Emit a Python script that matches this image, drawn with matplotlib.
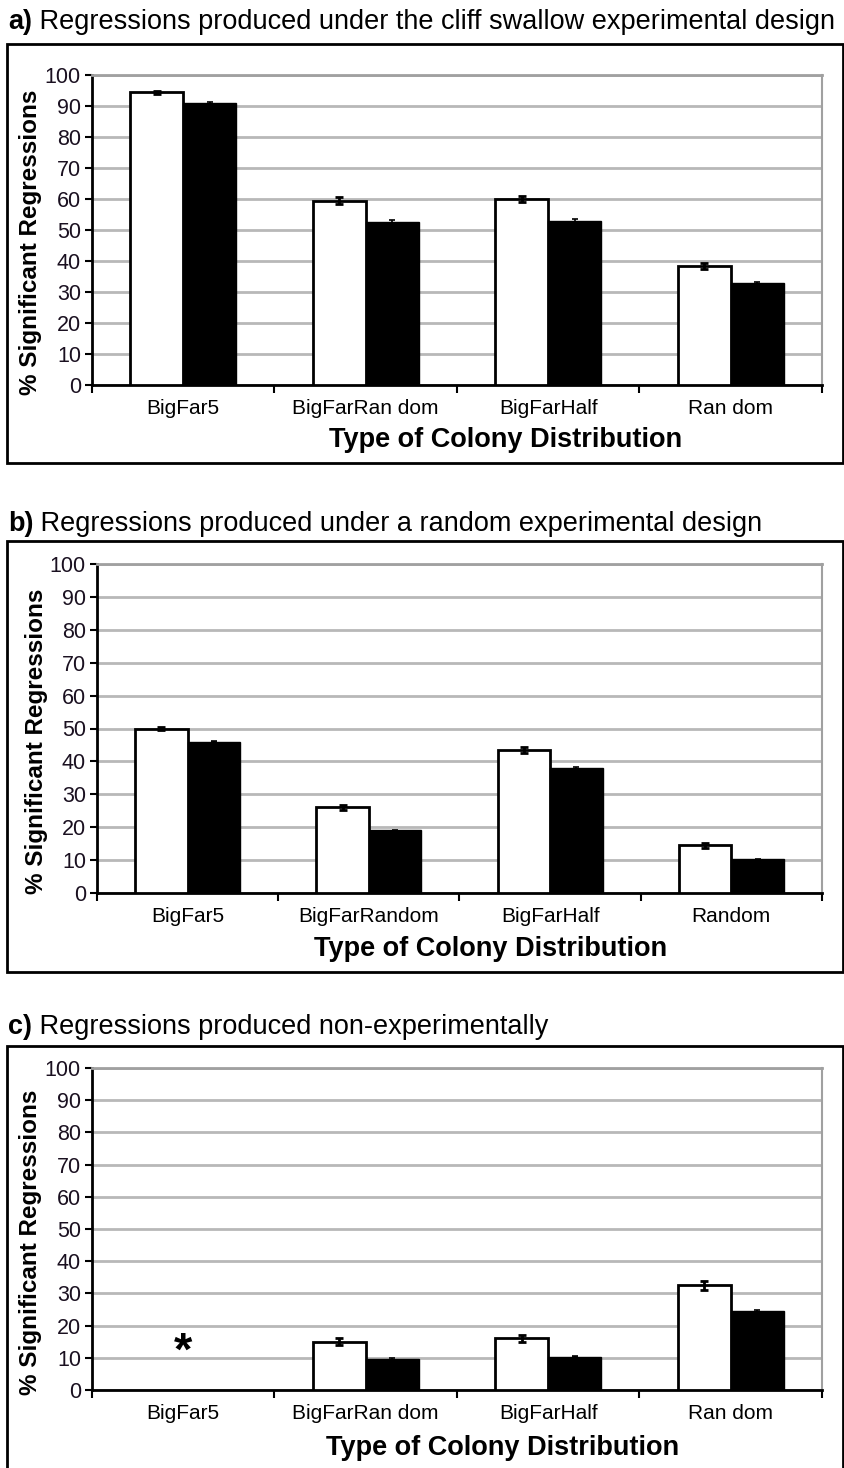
import matplotlib.pyplot as plt
import matplotlib.patches as mpatches
import numpy as np

# data
categories_a = ['BigFar5', 'BigFarRan dom', 'BigFarHalf', 'Ran dom']
categories_b = ['BigFar5', 'BigFarRandom', 'BigFarHalf', 'Random']
categories_c = ['BigFar5', 'BigFarRan dom', 'BigFarHalf', 'Ran dom']

white_a = [94.5, 59.5, 60.0, 38.5]
black_a = [91.0, 52.7, 53.0, 33.0]
white_err_a = [0.5, 1.0, 1.0, 1.0]
black_err_a = [0.2, 0.5, 0.4, 0.3]

white_b = [50.0, 26.0, 43.5, 14.5]
black_b = [46.0, 19.0, 38.0, 10.2]
white_err_b = [0.5, 0.8, 0.8, 0.8]
black_err_b = [0.2, 0.3, 0.2, 0.2]

white_c = [0.0, 15.0, 16.0, 32.5]
black_c = [0.0, 9.5, 10.3, 24.5]
white_err_c = [0.0, 1.0, 1.0, 1.5]
black_err_c = [0.0, 0.3, 0.2, 0.3]
missing_c = [True, False, False, False]
star_y = 11.5

titles = [('a)', ' Regressions produced under the cliff swallow experimental design'),
          ('b)', ' Regressions produced under a random experimental design'),
          ('c)', ' Regressions produced non-experimentally')]

NARROW = ['Liberation Sans Narrow', 'Liberation Sans', 'DejaVu Sans']
ARIAL = ['Liberation Sans', 'DejaVu Sans']

W, H = 845, 1468
fig = plt.figure(figsize=(W / 100, H / 100), dpi=100)


def px_axes(left, right, top, bottom):
    return fig.add_axes([left / W, 1 - bottom / H, (right - left) / W, (bottom - top) / H])


def draw_panel(ax, cats, white, black, werr, berr, skip=None):
    x = np.arange(len(cats)) + 0.5
    bw = 0.29
    keep = [i for i in range(len(cats)) if not (skip and skip[i])]
    xk = x[keep]
    ax.bar(xk - bw / 2, [white[i] for i in keep], bw, color='white', edgecolor='black',
           linewidth=2, zorder=3)
    ax.bar(xk + bw / 2, [black[i] for i in keep], bw, color='black', edgecolor='black',
           linewidth=1, zorder=3)
    ax.errorbar(xk - bw / 2, [white[i] for i in keep], yerr=[werr[i] for i in keep],
                fmt='none', ecolor='black', elinewidth=2, capsize=3, capthick=2, zorder=4)
    ax.errorbar(xk + bw / 2, [black[i] for i in keep], yerr=[berr[i] for i in keep],
                fmt='none', ecolor='black', elinewidth=1.2, capsize=2, capthick=1.2, zorder=4)

    ax.set_xlim(0, len(cats))
    ax.set_ylim(0, 100)
    ax.set_yticks(range(0, 101, 10))
    ax.set_xticks(range(0, len(cats) + 1))
    ax.set_xticklabels([])
    ax.set_xticks(x, minor=True)
    ax.set_xticklabels(cats, minor=True, family=NARROW, fontsize=15)
    ax.tick_params(axis='x', which='minor', length=0, pad=10)
    ax.tick_params(axis='x', which='major', length=6, width=1.5, direction='out')
    ax.tick_params(axis='y', length=5, width=1.5, direction='out', pad=3)
    for lab in ax.get_yticklabels():
        lab.set_family(NARROW)
        lab.set_fontsize(15.5)
        lab.set_color('#1a1020')
    ax.yaxis.grid(True, color='#b8b8b8', linewidth=2, zorder=0)
    ax.set_axisbelow(True)
    ax.spines['left'].set_linewidth(2)
    ax.spines['bottom'].set_linewidth(2)
    ax.spines['top'].set_color('#a0a0a0')
    ax.spines['right'].set_color('#a0a0a0')
    ax.spines['top'].set_linewidth(2)
    ax.spines['right'].set_linewidth(1.5)

    ax.set_ylabel('% Significant Regressions', family=ARIAL, fontweight='bold', fontsize=17.5)
    ax.set_xlabel('Type of Colony Distribution', family=NARROW, fontweight='bold', fontsize=19.5)
    ax.yaxis.set_label_coords(-0.068, 0.46)


panels = [
    dict(axes=(92, 822, 75, 385), box=(7, 843, 44, 463), title_y=22, xl=(0.567, -0.137),
         cats=categories_a, w=white_a, b=black_a, we=white_err_a, be=black_err_a),
    dict(axes=(97, 822, 564, 893), box=(7, 843, 541, 972), title_y=524, xl=(0.543, -0.132),
         cats=categories_b, w=white_b, b=black_b, we=white_err_b, be=black_err_b),
    dict(axes=(92, 822, 1068, 1390), box=(7, 843, 1046, 1475), title_y=1027, xl=(0.563, -0.141),
         cats=categories_c, w=white_c, b=black_c, we=white_err_c, be=black_err_c),
]

for i, p in enumerate(panels):
    ax = px_axes(*p['axes'])
    skip = missing_c if i == 2 else None
    draw_panel(ax, p['cats'], p['w'], p['b'], p['we'], p['be'], skip)
    ax.xaxis.set_label_coords(*p['xl'])
    if i == 2:
        ax.text(0.5, star_y, '*', ha='center', va='center', fontsize=34,
                fontweight='bold', family=ARIAL)

    bx0, bx1, by0, by1 = p['box']
    fig.patches.append(mpatches.Rectangle((bx0 / W, 1 - by1 / H), (bx1 - bx0) / W,
                                          (by1 - by0) / H, transform=fig.transFigure,
                                          fill=False, edgecolor='black', linewidth=2))
    tag, rest = titles[i]
    t = fig.text(8 / W, 1 - p['title_y'] / H, tag, family=NARROW, fontweight='bold',
                 fontsize=19.5, va='center', ha='left')
    fig.canvas.draw()
    bb = t.get_window_extent()
    fig.text(bb.x1 / W, 1 - p['title_y'] / H, rest, family=NARROW,
             fontsize=19.5, va='center', ha='left')

fig.savefig('out.png', dpi=100)
